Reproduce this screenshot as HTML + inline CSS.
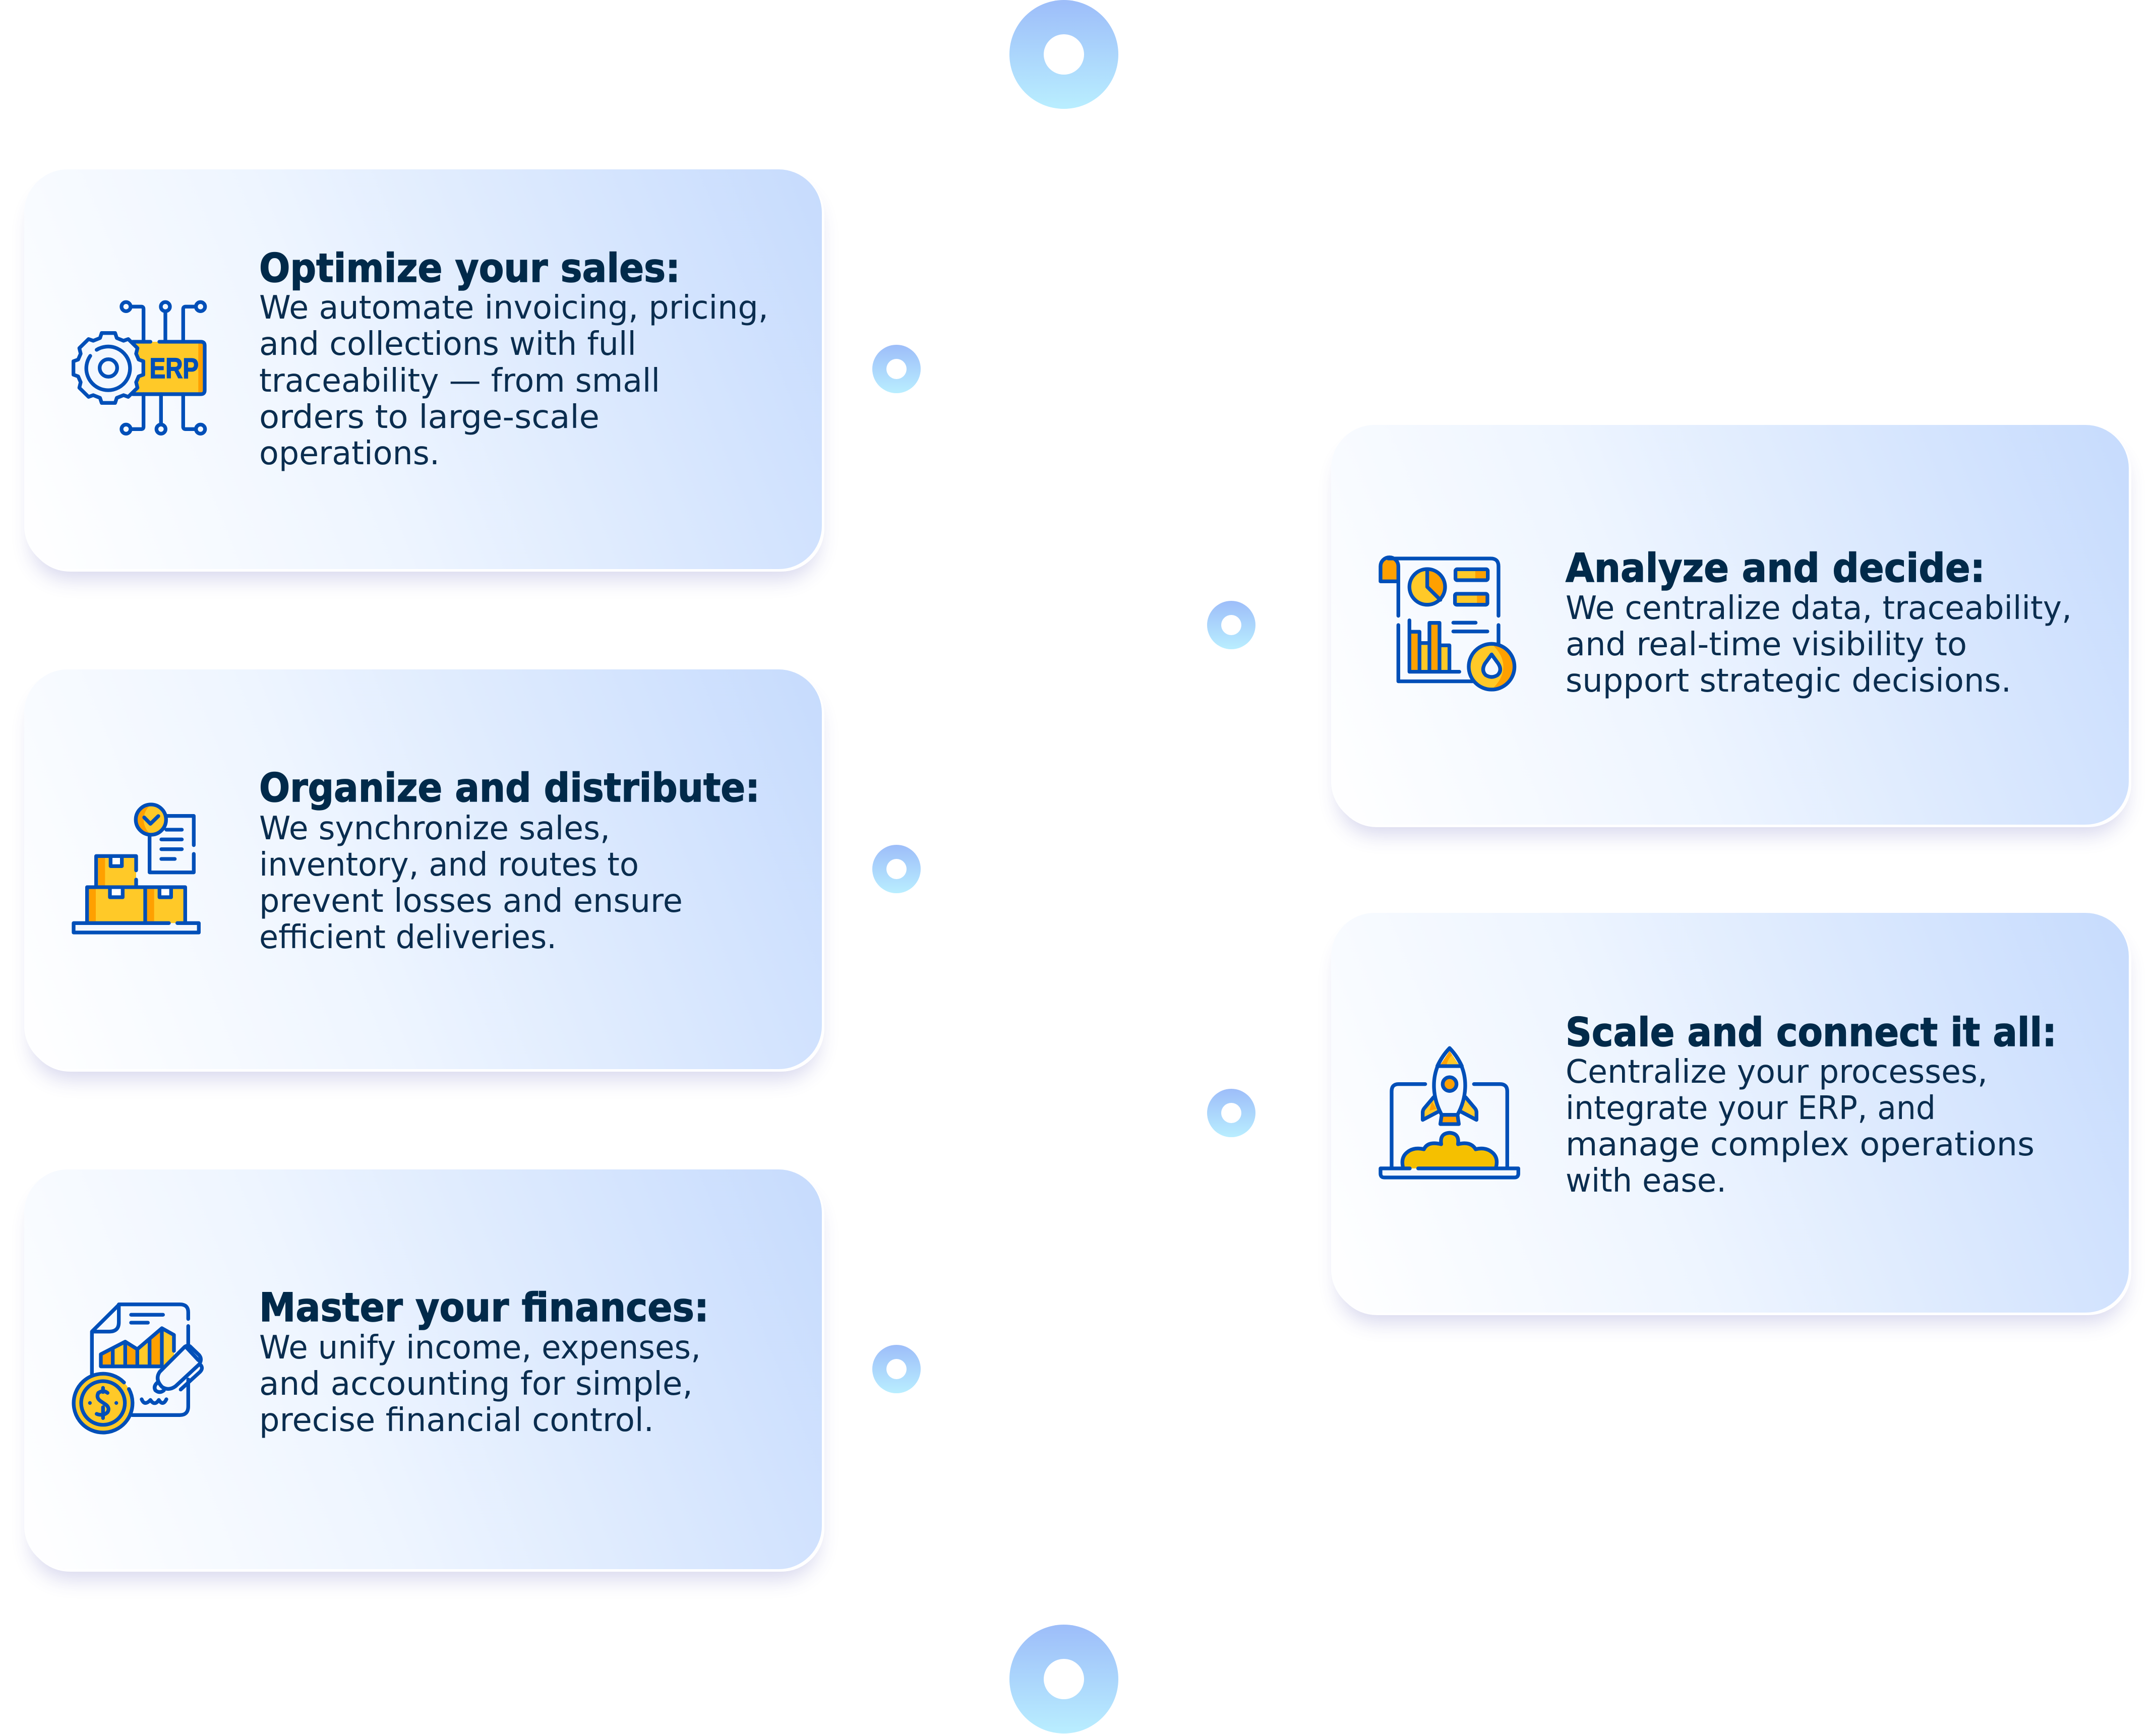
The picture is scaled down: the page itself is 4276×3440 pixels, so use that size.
<!DOCTYPE html>
<html><head><meta charset="utf-8">
<style>
html,body{margin:0;padding:0;background:#fff}
#p{position:relative;width:4276px;height:3440px;overflow:hidden;background:#fff}
.c{position:absolute;width:1582px;height:793px;border-radius:86px;background:linear-gradient(68deg,#ffffff 0%,#eef5ff 40%,#c6dbfd 100%);box-shadow:5px 5px 0 0 #fff,4px 30px 40px -10px rgba(60,60,170,.2)}
svg{position:absolute;left:0;top:0}
.t{font:700 78px "DejaVu Sans","Liberation Sans",sans-serif;fill:#012a4a;stroke:#012a4a;stroke-width:1.5}
.b{font:400 64px "DejaVu Sans","Liberation Sans",sans-serif;fill:#0a2d4f}
.s{fill:none;stroke:#004fb8;stroke-width:22;stroke-linecap:round;stroke-linejoin:round}
.y{fill:#ffc928}.o{fill:#ffa000}.w{fill:#f3f8ff}
</style></head><body><div id="p">
<div class="c" style="left:48px;top:336px"></div>
<div class="c" style="left:48px;top:1328px"></div>
<div class="c" style="left:48px;top:2320px"></div>
<div class="c" style="left:2640px;top:843px"></div>
<div class="c" style="left:2640px;top:1811px"></div>
<svg width="4276" height="3440" viewBox="0 0 4276 3440" xmlns="http://www.w3.org/2000/svg">
<defs><linearGradient id="g" x1="0" y1="0" x2="0" y2="1"><stop offset="0" stop-color="#9dbdf9"/><stop offset="1" stop-color="#b9eeff"/></linearGradient></defs>
<g fill="#fff">
<circle cx="2110" cy="108" r="108" fill="url(#g)"/><circle cx="2110" cy="108" r="40"/>
<circle cx="2110" cy="3331" r="108" fill="url(#g)"/><circle cx="2110" cy="3331" r="40"/>
<circle cx="1778" cy="732" r="48" fill="url(#g)"/><circle cx="1778" cy="732" r="20"/>
<circle cx="1778" cy="1724" r="48" fill="url(#g)"/><circle cx="1778" cy="1724" r="20"/>
<circle cx="1778" cy="2716" r="48" fill="url(#g)"/><circle cx="1778" cy="2716" r="20"/>
<circle cx="2442" cy="1240" r="48" fill="url(#g)"/><circle cx="2442" cy="1240" r="20"/>
<circle cx="2442" cy="2208" r="48" fill="url(#g)"/><circle cx="2442" cy="2208" r="20"/>
</g>

<g>
<text class="t" x="514" y="559" textLength="835" lengthAdjust="spacingAndGlyphs">Optimize your sales:</text>
<text class="b" x="514" y="632" textLength="1010" lengthAdjust="spacingAndGlyphs">We automate invoicing, pricing,</text>
<text class="b" x="514" y="704" textLength="748" lengthAdjust="spacingAndGlyphs">and collections with full</text>
<text class="b" x="514" y="777" textLength="795" lengthAdjust="spacingAndGlyphs">traceability — from small</text>
<text class="b" x="514" y="849" textLength="675" lengthAdjust="spacingAndGlyphs">orders to large-scale</text>
<text class="b" x="514" y="921" textLength="358" lengthAdjust="spacingAndGlyphs">operations.</text>

<text class="t" x="514" y="1590" textLength="993" lengthAdjust="spacingAndGlyphs">Organize and distribute:</text>
<text class="b" x="514" y="1665" textLength="696" lengthAdjust="spacingAndGlyphs">We synchronize sales,</text>
<text class="b" x="514" y="1737" textLength="753" lengthAdjust="spacingAndGlyphs">inventory, and routes to</text>
<text class="b" x="514" y="1809" textLength="840" lengthAdjust="spacingAndGlyphs">prevent losses and ensure</text>
<text class="b" x="514" y="1881" textLength="590" lengthAdjust="spacingAndGlyphs">efficient deliveries.</text>

<text class="t" x="514" y="2621" textLength="892" lengthAdjust="spacingAndGlyphs">Master your finances:</text>
<text class="b" x="514" y="2695" textLength="876" lengthAdjust="spacingAndGlyphs">We unify income, expenses,</text>
<text class="b" x="514" y="2767" textLength="860" lengthAdjust="spacingAndGlyphs">and accounting for simple,</text>
<text class="b" x="514" y="2839" textLength="783" lengthAdjust="spacingAndGlyphs">precise financial control.</text>

<text class="t" x="3105" y="1154" textLength="832" lengthAdjust="spacingAndGlyphs">Analyze and decide:</text>
<text class="b" x="3105" y="1228" textLength="1004" lengthAdjust="spacingAndGlyphs">We centralize data, traceability,</text>
<text class="b" x="3105" y="1300" textLength="796" lengthAdjust="spacingAndGlyphs">and real-time visibility to</text>
<text class="b" x="3105" y="1372" textLength="884" lengthAdjust="spacingAndGlyphs">support strategic decisions.</text>

<text class="t" x="3105" y="2075" textLength="974" lengthAdjust="spacingAndGlyphs">Scale and connect it all:</text>
<text class="b" x="3105" y="2148" textLength="837" lengthAdjust="spacingAndGlyphs">Centralize your processes,</text>
<text class="b" x="3105" y="2220" textLength="734" lengthAdjust="spacingAndGlyphs">integrate your ERP, and</text>
<text class="b" x="3105" y="2292" textLength="930" lengthAdjust="spacingAndGlyphs">manage complex operations</text>
<text class="b" x="3105" y="2364" textLength="319" lengthAdjust="spacingAndGlyphs">with ease.</text>
</g>

<!-- ERP icon -->
<g transform="translate(100,550) scale(.3333)">
<rect x="500" y="384" width="418" height="312" rx="22" class="y"/>
<rect x="880" y="390" width="30" height="300" class="o"/>
<path class="s" d="M490,384H595M648,384H895Q918,384 918,407V673Q918,696 895,696H490"/>
<path class="s" d="M484,175H540Q554,175 554,189V384M684,205V384M860,175H805Q790,175 790,190V384M554,696V890Q554,904 540,904H484M658,696V875M790,696V890Q790,904 805,904H860"/>
<circle class="s" cx="450" cy="175" r="27"/><circle class="s" cx="684" cy="175" r="27"/><circle class="s" cx="893" cy="175" r="27"/><circle class="s" cx="450" cy="904" r="27"/><circle class="s" cx="658" cy="904" r="27"/><circle class="s" cx="893" cy="904" r="27"/>
<path class="s" style="fill:#f3f8ff" d="M305,332H385L395,362L435,378L463,368L518,422L510,455L525,490L553,500V580L525,590L510,625L518,658L463,712L435,702L395,718L385,748H305L295,718L255,702L227,712L172,658L180,625L165,590L137,580V500L165,490L180,455L172,422L227,368L255,378L295,362Z"/>
<path class="s" d="M275,432A130,130 0 1 1 237,468"/>
<circle class="s" cx="345" cy="540" r="52"/>
<text x="590" y="600" textLength="292" lengthAdjust="spacingAndGlyphs" font-family="Liberation Sans,sans-serif" font-weight="700" font-size="170" fill="#004fb8" stroke="#004fb8" stroke-width="5">ERP</text>
</g>

<!-- Boxes icon -->
<g transform="translate(100,1560) scale(.3333)">
<path class="s" d="M590,290V512H853V402M853,350V176H695M690,258H782M660,316H782M660,374H782M660,432H740"/>
<circle cx="598" cy="198" r="90" class="y"/>
<path class="o" d="M598,108A90,90 0 0 0 598,288Q555,250 555,198T598,108Z"/>
<circle class="s" cx="598" cy="198" r="90"/>
<path class="s" d="M558,185L595,223L642,177"/>
<rect x="272" y="415" width="238" height="190" class="y"/><rect x="285" y="425" width="40" height="170" class="o"/>
<rect x="218" y="600" width="584" height="225" class="y"/><rect x="230" y="610" width="40" height="200" class="o"/><rect x="575" y="610" width="42" height="200" class="o"/>
<path class="s" style="fill:#fff" d="M358,420V475H425V420M354,605V660H430V605M649,605V660H718V605"/>
<path class="s" d="M272,600V415H510V500M510,555V600M218,812V600H802V812M564,600V812"/>
<path class="s" style="fill:#f3f8ff" d="M705,814H138V870H883V814H755"/>
</g>

<!-- Finance icon -->
<g transform="translate(100,2540) scale(.3333)">
<path class="s" d="M820,230V190Q820,143 770,143H410L247,305V560M820,272V380M820,590V750Q820,802 770,802H485M247,305H350Q407,305 407,250V143M480,205H670M480,252H580"/>
<path class="y" d="M300,440L445,365L517,410L663,285L735,325V490L663,512H300Z"/>
<path class="o" d="M300,440L371,405V512H300ZM445,365L517,410V512H445ZM590,340L663,285V512H590Z"/>
<path class="s" d="M735,325V420M663,512H300V440L445,365L517,410L663,285L735,325M371,405V512M445,365V512M517,410V512M590,350V512M663,285V512"/>
<path class="s" style="fill:#f3f8ff" d="M800,395Q815,385 830,392L885,445Q905,470 885,500L745,630Q705,660 665,635Q620,590 650,545Z"/>
<path class="s" d="M810,400L880,475M775,650L890,545Q910,525 895,505M640,605Q610,630 625,655Q650,675 675,655M543,708Q560,750 595,712Q620,750 645,712Q670,750 690,708"/>
<circle cx="313" cy="730" r="175" class="y"/>
<path class="s" d="M438,608A175,175 0 1 0 467,647"/>
<circle class="s" cx="313" cy="730" r="130"/>
<path class="s" d="M340,670Q315,650 285,670Q270,700 300,720L330,740Q355,760 340,785Q315,810 275,795M313,640V665M313,755V820"/>
<circle cx="235" cy="730" r="11" fill="#004fb8"/><circle cx="392" cy="730" r="11" fill="#004fb8"/>
</g>

<!-- Analyze icon -->
<g transform="translate(2700,1080) scale(.3333)">
<path class="o" d="M114,220V130A52,52 0 0 1 220,130V220Z"/>
<path class="s" d="M114,220V130A52,52 0 0 1 220,130V425M114,220H220M160,84H770Q816,84 816,130V425M220,480V815H660M816,480V590"/>
<circle cx="392" cy="253" r="106" class="y"/>
<path class="o" d="M392,150A106,106 0 0 1 470,325L392,253Z"/>
<circle class="s" cx="392" cy="253" r="106"/>
<path class="s" d="M392,150V253L470,330"/>
<rect x="560" y="148" width="192" height="65" class="y"/><rect x="678" y="148" width="62" height="65" class="o"/>
<rect x="557" y="294" width="193" height="65" class="y"/><rect x="688" y="294" width="52" height="65" class="o"/>
<rect class="s" x="560" y="148" width="192" height="65" rx="10"/><rect class="s" x="557" y="294" width="193" height="65" rx="10"/>
<path class="s" d="M547,466H680M547,518H750"/>
<rect x="286" y="520" width="60" height="238" class="o"/><rect x="346" y="587" width="59" height="171" class="y"/><rect x="405" y="467" width="60" height="291" class="o"/><rect x="465" y="601" width="59" height="157" class="y"/>
<path class="s" d="M286,452V758H583M286,520H346V758M346,587H405M405,758V467H465V758M465,601H524V758"/>
<circle cx="775" cy="728" r="136" class="y"/>
<path class="o" d="M775,592A136,136 0 0 1 775,864Q845,800 845,728T775,592Z"/>
<circle class="s" cx="775" cy="728" r="136"/>
<path class="s" style="fill:#f3f8ff" d="M775,655L815,710Q840,750 810,778Q775,800 740,778Q712,750 735,710Z"/>
</g>

<!-- Rocket icon -->
<g transform="translate(2700,2040) scale(.3333)">
<path class="s" d="M380,332H222Q180,332 180,375V830M670,332H825Q868,332 868,375V830"/>
<path fill="#f5c000" d="M247,835Q235,770 270,740Q310,705 372,720Q395,670 475,690Q465,625 525,622Q585,625 575,690Q650,670 680,720Q740,705 780,740Q815,770 802,835Z"/>
<path class="s" d="M247,825Q235,770 270,740Q310,705 372,720Q395,670 475,690Q465,625 525,622Q585,625 575,690Q650,670 680,720Q740,705 780,740Q815,770 802,825"/>
<path class="s" style="fill:#f3f8ff" d="M288,834H114V865Q114,888 137,888H910Q934,888 934,865V834H338"/>
<path class="y" d="M430,410L375,475Q365,487 365,500V545L460,495Z"/><path class="y" d="M620,410L675,475Q685,487 685,500V545L590,495Z"/>
<path class="o" d="M420,435L405,490L445,480Z"/>
<path class="s" d="M430,410L375,475Q365,487 365,500V545L460,495M620,410L675,475Q685,487 685,500V545L590,495"/>
<path class="o" d="M478,515L470,570H580L572,515Z"/>
<path class="s" d="M478,515L470,570H580L572,515"/>
<path class="s" style="fill:#f3f8ff" d="M525,118Q432,215 432,340Q432,430 478,515H572Q618,430 618,340Q618,215 525,118Z"/>
<path class="y" d="M525,135L465,225H585Z"/><path class="o" d="M525,135L465,225H505Q515,180 540,160Z"/>
<path class="s" d="M525,118Q480,165 452,225H598Q570,165 525,118Z"/>
<circle class="s" style="fill:#ffa000" cx="525" cy="332" r="41"/>
</g>
</svg>
</div></body></html>
